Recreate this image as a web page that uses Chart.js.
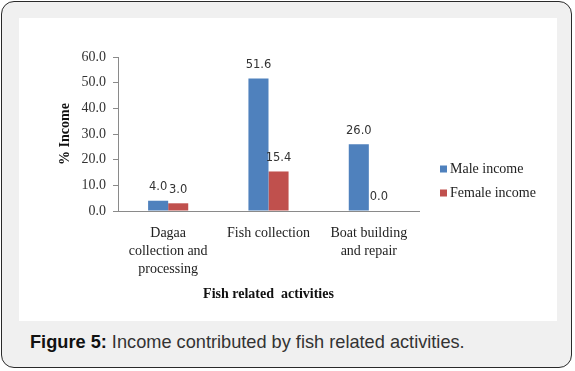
<!DOCTYPE html>
<html>
<head>
<meta charset="utf-8">
<script src="https://cdn.jsdelivr.net/npm/chart.js@4"></script>
<style>
  html, body { margin: 0; padding: 0; background: #ffffff; }
  body { width: 575px; height: 371px; position: relative; overflow: hidden; }
  #frame { position: absolute; left: 1px; top: 1px; width: 569px; height: 365px;
           border: 1.5px solid #2a2a2a; border-radius: 13px; background: #f0f0f0; }
  #panel { position: absolute; left: 19px; top: 18px; width: 538px; height: 303px; background: #ffffff; }
  #caption { position: absolute; left: 30px; top: 332px; font-family: "Liberation Sans", Arial, sans-serif;
             font-size: 18.2px; color: #333; white-space: nowrap; }
  #caption b { color: #111; }
</style>
</head>
<body>
<div id="frame"></div>
<div id="panel"><canvas id="c" width="538" height="303"></canvas></div>
<div id="caption"><b>Figure 5:</b> Income contributed by fish related activities.</div>
<script>
const categories = [["Dagaa", "collection and", "processing"], ["Fish collection"], ["Boat building", "and repair"]];
const seriesNames = ["Male income", "Female income"];
const maleIncome = [4.0, 51.6, 26.0];
const femaleIncome = [3.0, 15.4, 0.0];
const yTicks = [0, 10, 20, 30, 40, 50, 60];
const colors = ["#4F81BD", "#C0504D"];

const serif = '"Liberation Serif", "Times New Roman", serif';

const valueLabels = {
  id: 'valueLabels',
  afterDatasetsDraw(chart) {
    const ctx = chart.ctx;
    ctx.save();
    ctx.font = '11.5px "DejaVu Sans", sans-serif';
    ctx.fillStyle = '#333';
    ctx.textAlign = 'center';
    ctx.textBaseline = 'middle';
    chart.data.datasets.forEach((ds, di) => {
      chart.getDatasetMeta(di).data.forEach((bar, i) => {
        ctx.fillText(ds.data[i].toFixed(1), bar.x, bar.y - 13.5);
      });
    });
    ctx.restore();
  }
};

const sideLegend = {
  id: 'sideLegend',
  afterDraw(chart) {
    const ctx = chart.ctx;
    ctx.save();
    ctx.font = '14px ' + serif;
    ctx.textBaseline = 'middle';
    ctx.textAlign = 'left';
    chart.data.datasets.forEach((ds, di) => {
      const y = 151 + di * 24;
      ctx.fillStyle = ds.backgroundColor;
      ctx.fillRect(421, y - 3.5, 7, 7);
      ctx.fillStyle = '#222';
      ctx.fillText(ds.label, 431, y);
    });
    ctx.restore();
  }
};

new Chart(document.getElementById('c'), {
  type: 'bar',
  data: {
    labels: categories,
    datasets: [
      { label: seriesNames[0], data: maleIncome, backgroundColor: colors[0] },
      { label: seriesNames[1], data: femaleIncome, backgroundColor: colors[1] }
    ]
  },
  options: {
    responsive: false,
    devicePixelRatio: 1,
    animation: false,
    layout: { padding: { left: 38, top: 39, right: 138, bottom: 18 } },
    datasets: { bar: { categoryPercentage: 0.4, barPercentage: 1.0 } },
    plugins: { legend: { display: false }, tooltip: { enabled: false } },
    scales: {
      x: {
        grid: { display: false, drawTicks: false },
        border: { display: true, color: '#8a8a8a', width: 1 },
        ticks: { color: '#222', font: { family: serif, size: 14, lineHeight: 1.3 }, padding: 13, maxRotation: 0, autoSkip: false },
        title: { display: true, text: 'Fish related  activities', color: '#111',
                 font: { family: serif, size: 14, weight: 'bold' }, padding: 0 },
        afterFit(s) { s.height = 92; }
      },
      y: {
        min: 0, max: 60,
        afterBuildTicks(s) { s.ticks = yTicks.map(v => ({ value: v })); },
        grid: { display: true, drawOnChartArea: false, drawTicks: true, tickLength: 5, color: '#8a8a8a' },
        border: { display: true, color: '#8a8a8a', width: 1 },
        ticks: { color: '#333', font: { family: serif, size: 14 }, padding: 7, callback: v => Number(v).toFixed(1) },
        title: { display: true, text: '% Income', color: '#111',
                 font: { family: serif, size: 14, weight: 'bold' }, padding: 0 },
        afterFit(s) { s.width = 61; }
      }
    }
  },
  plugins: [valueLabels, sideLegend]
});
</script>
</body>
</html>
